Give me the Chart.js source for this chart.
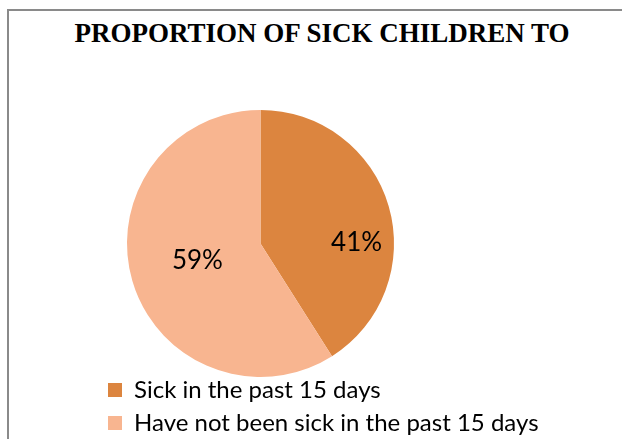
<!DOCTYPE html>
<html>
<head>
<meta charset="utf-8">
<script src="https://cdn.jsdelivr.net/npm/chart.js@4.4.1/dist/chart.umd.min.js"></script>
<style>
  html, body { margin: 0; padding: 0; background: #fff; }
  #wrap { position: relative; width: 622px; height: 439px; overflow: hidden; }
  #frame { position: absolute; left: 7px; top: 9px; width: 700px; height: 500px;
           border-left: 2px solid #8a8a8a; border-top: 2px solid #8a8a8a; }
  #title { position: absolute; left: 0; top: 18px; width: 644px; text-align: center;
           font: bold 27px "Liberation Serif", "Times New Roman", serif; color: #000;
           white-space: nowrap; }
  #myChart { position: absolute; left: 0; top: 0; }
</style>
</head>
<body>
<div id="wrap">
  <div id="frame"></div>
  <div id="title">PROPORTION OF SICK CHILDREN TO</div>
  <canvas id="myChart" width="622" height="439"></canvas>
</div>
<script>
var categories = ['Sick in the past 15 days', 'Have not been sick in the past 15 days'];
var shares = [41, 59];
var sliceColors = ['#DC853F', '#F8B590'];

// label nudges (px) relative to each arc's centroid
var labelShift = [[32, 18], [1, -2]];

var pctLabels = {
  id: 'pctLabels',
  afterDatasetsDraw: function (chart) {
    var ctx = chart.ctx;
    var meta = chart.getDatasetMeta(0);
    ctx.save();
    ctx.font = '26px Lato';
    ctx.fillStyle = '#000';
    ctx.textAlign = 'center';
    ctx.textBaseline = 'middle';
    meta.data.forEach(function (arc, i) {
      var p = arc.tooltipPosition();
      ctx.fillText(shares[i] + '%', p.x + labelShift[i][0], p.y + labelShift[i][1]);
    });
    ctx.restore();
  }
};

// pull the legend up under the pie and let it use the full width (no clipping)
var legendNudge = {
  id: 'legendNudge',
  afterLayout: function (chart) {
    var lg = chart.legend;
    lg.top -= 8;
    lg.bottom = chart.height;
    lg.right = chart.width;
    lg.width = lg.right - lg.left;
    lg.height = lg.bottom - lg.top;
  }
};

var ctx = document.getElementById('myChart');
var myPie = new Chart(ctx, {
  type: 'pie',
  data: {
    labels: categories,
    datasets: [{
      data: shares,
      backgroundColor: sliceColors,
      borderWidth: 0
    }]
  },
  options: {
    responsive: false,
    animation: false,
    layout: { padding: { left: 99, right: 200, top: 110, bottom: 0 } },
    plugins: {
      legend: {
        position: 'bottom',
        align: 'start',
        maxHeight: 62,
        labels: {
          boxWidth: 14,
          boxHeight: 14,
          padding: 9,
          color: '#000',
          font: { family: 'Lato', size: 24 }
        }
      },
      tooltip: { enabled: false }
    }
  },
  plugins: [pctLabels, legendNudge]
});
</script>
</body>
</html>
